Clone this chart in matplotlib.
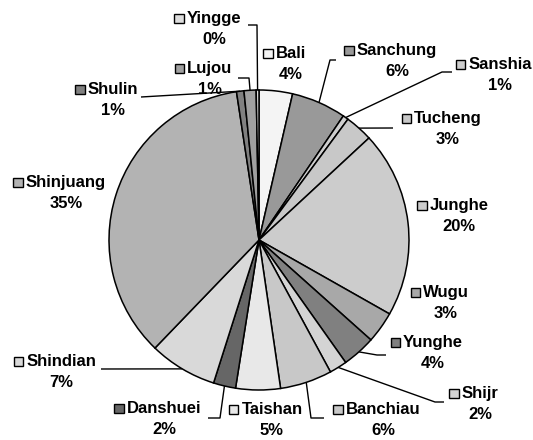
import numpy as np
import matplotlib
matplotlib.use("Agg")
import matplotlib.pyplot as plt
from matplotlib.patches import Rectangle

# ===== data (clockwise from 12 o'clock) =====
names = ["Bali", "Sanchung", "Sanshia", "Tucheng", "Junghe", "Wugu", "Yunghe", "Shijr",
         "Banchiau", "Taishan", "Danshuei", "Shindian", "Shinjuang", "Shulin", "Lujou", "Yingge"]
shares = [3.6, 5.9, 0.6, 3.0, 20.1, 3.4, 3.6, 1.9,
          5.6, 4.8, 2.4, 7.3, 35.4, 0.8, 1.3, 0.3]
colors = ["#f4f4f4", "#999999", "#cfcfcf", "#c8c8c8", "#cccccc", "#a8a8a8", "#808080", "#d4d4d4",
          "#c8c8c8", "#e8e8e8", "#666666", "#d9d9d9", "#b3b3b3", "#808080", "#a0a0a0", "#dddddd"]

W, H = 533, 440
CX, CY, R = 259, 240, 150   # pie centre / radius in pixels (y from top)

# label text centre (x, y of name line), pixels from top-left
label_pos = {
    "Bali": (291, 53), "Sanchung": (397, 50), "Sanshia": (500, 64), "Tucheng": (448, 118),
    "Junghe": (459, 205), "Wugu": (446, 292), "Yunghe": (433, 342), "Shijr": (480, 393),
    "Banchiau": (383, 409), "Taishan": (272, 409), "Danshuei": (164, 408), "Shindian": (61, 361),
    "Shinjuang": (66, 182), "Shulin": (113, 89), "Lujou": (210, 68), "Yingge": (214, 18),
}
# leader line waypoints after the rim point
leaders = {
    "Yingge": [(257, 25), (248, 25)],
    "Lujou": [(249, 78), (238, 78)],
    "Shulin": [(141, 97)],
    "Sanchung": [(330, 60), (336, 60)],
    "Sanshia": [(442, 72), (452, 72)],
    "Tucheng": [(393, 128)],
    "Yunghe": [(377, 355), (386, 355)],
    "Shijr": [(435, 402), (444, 402)],
    "Banchiau": [(311, 418), (324, 418)],
    "Danshuei": [(220, 418), (208, 418)],
    "Shindian": [(101, 369)],
}

def py(y):
    return H - y

fig = plt.figure(figsize=(W / 100, H / 100), dpi=100)
ax = fig.add_axes([0, 0, 1, 1])
wedges, _ = ax.pie(shares, colors=colors, startangle=90, counterclock=False,
                   center=(CX, py(CY)), radius=R,
                   wedgeprops=dict(edgecolor="black", linewidth=1.1))
ax.set_xlim(0, W)
ax.set_ylim(0, H)
ax.set_aspect("equal")
ax.axis("off")

font = dict(family=["Liberation Sans", "DejaVu Sans"], fontweight="bold", fontsize=12)

texts = {}
for name, val, w in zip(names, shares, wedges):
    tx, ty = label_pos[name]
    texts[name] = ax.text(tx, py(ty), name, ha="center", va="center", **font)
    ax.text(tx, py(ty + 21), f"{val:.0f}%", ha="center", va="center", **font)

    if name in leaders:
        mid = np.deg2rad((w.theta1 + w.theta2) / 2)
        xs = [CX + R * np.cos(mid)] + [p[0] for p in leaders[name]]
        ys = [py(CY) + R * np.sin(mid)] + [py(p[1]) for p in leaders[name]]
        ax.plot(xs, ys, color="black", lw=1.0, solid_capstyle="butt")

# legend keys in front of each name
fig.canvas.draw()
rend = fig.canvas.get_renderer()
for name, col in zip(names, colors):
    bb = texts[name].get_window_extent(rend)
    size = 9.5
    x0 = bb.x0 - 3 - size
    y0 = (bb.y0 + bb.y1) / 2 - size / 2 - 0.5
    ax.add_patch(Rectangle((x0, y0), size, size, facecolor=col, edgecolor="black", lw=1.0))

fig.savefig("out.png", dpi=100)
